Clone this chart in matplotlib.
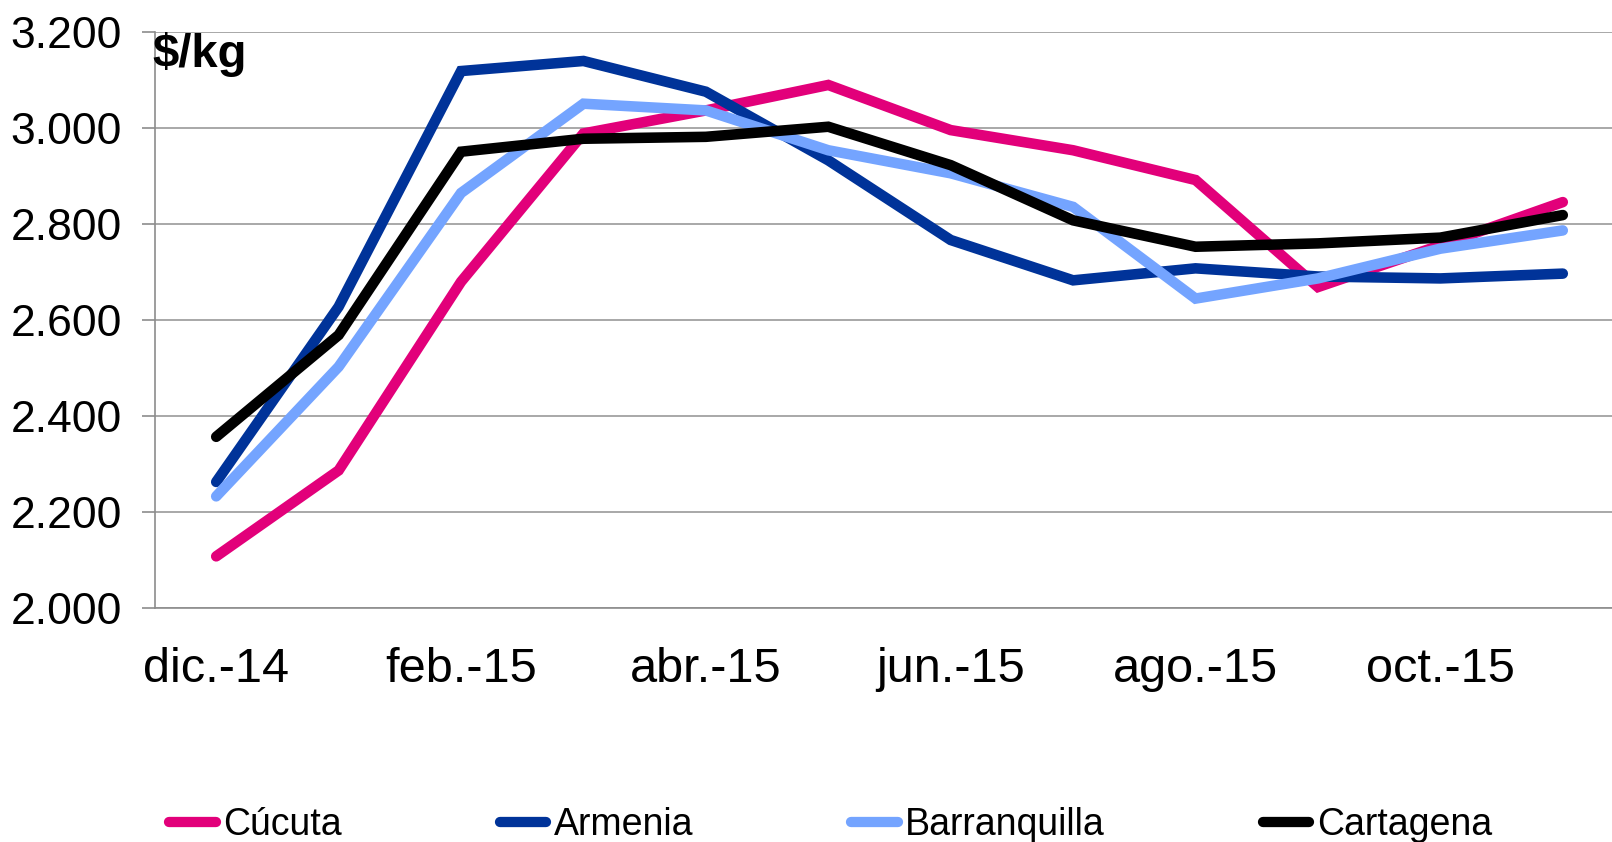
import matplotlib
matplotlib.use("Agg")
import matplotlib.pyplot as plt
from matplotlib.lines import Line2D

plt.rcParams['font.family'] = ['Liberation Sans', 'DejaVu Sans']

months = ["dic.-14", "ene.-15", "feb.-15", "mar.-15", "abr.-15", "may.-15",
          "jun.-15", "jul.-15", "ago.-15", "sep.-15", "oct.-15", "nov.-15"]

cucuta = [2107, 2286, 2679, 2988, 3036, 3089, 2995, 2953, 2891, 2668, 2755, 2845]
armenia = [2262, 2627, 3118, 3139, 3075, 2932, 2766, 2682, 2707, 2690, 2686, 2696]
barranquilla = [2232, 2502, 2864, 3050, 3036, 2953, 2905, 2835, 2644, 2686, 2748, 2786]
cartagena = [2356, 2568, 2950, 2977, 2981, 3002, 2922, 2807, 2752, 2759, 2771, 2818]

series_names = ["Cúcuta", "Armenia", "Barranquilla", "Cartagena"]
series_values = [cucuta, armenia, barranquilla, cartagena]
series_colors = ["#E2007A", "#003399", "#74A4FF", "#000000"]

y_ticks = [2000, 2200, 2400, 2600, 2800, 3000, 3200]
y_tick_labels = ["2.000", "2.200", "2.400", "2.600", "2.800", "3.000", "3.200"]
unit_label = "$/kg"

W, H = 1612, 842
fig = plt.figure(figsize=(W / 100, H / 100), dpi=100)
ax = fig.add_axes([155 / W, 1 - 607.7 / H, 1469 / W, 576 / H])

x = list(range(len(months)))
for name, vals, col in zip(series_names, series_values, series_colors):
    ax.plot(x, vals, color=col, lw=7.6, solid_capstyle='round',
            solid_joinstyle='miter', label=name, clip_on=False)

ax.set_xlim(-0.5, len(months) - 0.5)
ax.set_ylim(2000, 3200)
ax.set_yticks(y_ticks)
ax.set_yticklabels(y_tick_labels)
ax.set_xticks(x[::2])
ax.set_xticklabels(months[::2])

ax.grid(axis='y', color='#999999', lw=1.2)
ax.set_axisbelow(True)
for s in ['top', 'right']:
    ax.spines[s].set_visible(False)
for s in ['left', 'bottom']:
    ax.spines[s].set_color('#8c8c8c')
    ax.spines[s].set_linewidth(1.2)

ax.tick_params(axis='y', length=9.4, width=1.2, color='#8c8c8c', pad=14.5,
               labelsize=32, labelcolor='black')
ax.tick_params(axis='x', length=0, pad=28, labelsize=35, labelcolor='black')

ax.text(-0.002, 1 - (66.7 - 31.5) / 576, unit_label, transform=ax.transAxes,
        ha='left', va='baseline', fontsize=34, fontweight='bold')

handles = [Line2D([0], [0], color=c, lw=7.4, solid_capstyle='round') for c in series_colors]
fig.legend(handles, series_names, loc='center left',
           bbox_to_anchor=(169 / W, 1 - 825 / H), ncol=4, frameon=False,
           handlelength=1.25, handletextpad=0.2, columnspacing=4.2,
           borderpad=0, borderaxespad=0, fontsize=27)

fig.savefig("out.png", dpi=100)
